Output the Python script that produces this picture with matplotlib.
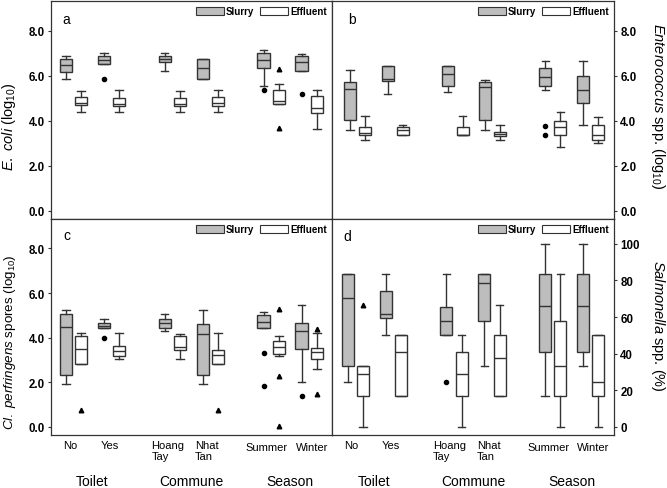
import matplotlib
matplotlib.use("Agg")
import matplotlib.pyplot as plt
from matplotlib.patches import Patch
from matplotlib.transforms import ScaledTranslation

plt.rcParams['font.family'] = ['Liberation Sans', 'DejaVu Sans']
plt.rcParams['mathtext.fontset'] = 'custom'
plt.rcParams['mathtext.rm'] = 'Liberation Sans'
plt.rcParams['mathtext.it'] = 'Liberation Sans:italic'

# ---------------- data ----------------
categories = ['No', 'Yes', 'Hoang\nTay', 'Nhat\nTan', 'Summer', 'Winter']
groups = ['Toilet', 'Commune', 'Season']
series = ['Slurry', 'Effluent']

# box stats per category: (whisker low, Q1, median, Q3, whisker high)
ecoli_slurry = [(5.85, 6.15, 6.46, 6.74, 6.86), (6.52, 6.52, 6.68, 6.90, 7.02),
                (6.19, 6.61, 6.76, 6.90, 7.02), (5.84, 5.84, 6.34, 6.73, 6.73),
                (5.54, 6.34, 6.71, 7.01, 7.16), (6.21, 6.21, 6.61, 6.86, 6.98)]
ecoli_effluent = [(4.39, 4.72, 4.78, 5.04, 5.32), (4.39, 4.65, 4.76, 5.01, 5.35),
                  (4.39, 4.65, 4.76, 5.01, 5.32), (4.39, 4.65, 4.79, 5.04, 5.36),
                  (4.76, 4.76, 4.90, 5.35, 5.64), (3.64, 4.34, 4.58, 5.08, 5.35)]
ecoli_dots = [(1, 0, 5.85), (4, 0, 5.39), (5, 0, 5.20)]
ecoli_triangles = [(4, 1, 6.28), (4, 1, 3.67)]

entero_slurry = [(3.61, 4.03, 5.41, 5.72, 6.24), (5.21, 5.75, 5.87, 6.42, 6.42),
                 (5.28, 5.53, 6.06, 6.42, 6.42), (3.61, 4.03, 5.49, 5.72, 5.83),
                 (5.38, 5.56, 5.94, 6.34, 6.67), (3.83, 4.79, 5.38, 5.97, 6.67)]
entero_effluent = [(3.17, 3.35, 3.47, 3.73, 4.20), (3.39, 3.39, 3.57, 3.72, 3.83),
                   (3.35, 3.35, 3.39, 3.73, 4.20), (3.17, 3.32, 3.42, 3.51, 3.83),
                   (2.85, 3.39, 3.72, 3.97, 4.38), (3.02, 3.17, 3.39, 3.83, 4.16)]
entero_dots = [(4, 0, 3.79), (4, 0, 3.36)]
entero_triangles = []

clp_slurry = [(1.93, 2.33, 4.48, 5.07, 5.25), (4.42, 4.42, 4.51, 4.68, 4.83),
              (4.28, 4.43, 4.68, 4.83, 5.07), (1.93, 2.33, 4.18, 4.62, 5.25),
              (4.45, 4.45, 4.71, 5.00, 5.17), (2.01, 3.49, 4.31, 4.64, 5.47)]
clp_effluent = [(2.83, 2.83, 3.49, 4.09, 4.22), (3.05, 3.18, 3.41, 3.63, 4.19),
                (3.03, 3.46, 3.60, 4.07, 4.18), (2.83, 2.83, 3.24, 3.43, 4.22),
                (3.20, 3.27, 3.57, 3.87, 4.06), (2.60, 3.03, 3.38, 3.54, 4.19)]
clp_dots = [(1, 0, 3.97), (4, 0, 3.30), (4, 0, 1.84), (5, 0, 1.38)]
clp_triangles = [(0, 1, 0.74), (3, 1, 0.74), (4, 1, 5.28), (4, 1, 2.28),
                 (4, 1, 0.03), (5, 1, 4.39), (5, 1, 1.46)]

salm_slurry = [(24.5, 33.3, 70.5, 83.3, 83.3), (50.0, 59.2, 61.8, 74.3, 83.3),
               (50.0, 50.0, 57.8, 65.6, 83.3), (33.3, 57.8, 78.8, 83.3, 83.3),
               (16.7, 41.1, 66.1, 83.3, 100.0), (33.3, 41.1, 66.1, 83.3, 100.0)]
salm_effluent = [(0.0, 16.7, 28.8, 33.3, 33.3), (16.7, 16.7, 40.9, 50.0, 50.0),
                 (0.0, 16.7, 28.8, 40.9, 50.0), (16.7, 16.7, 37.5, 50.0, 66.7),
                 (0.0, 16.7, 33.3, 57.8, 83.3), (0.0, 16.7, 24.5, 50.0, 50.0)]
salm_dots = [(2, 0, 24.5)]
salm_triangles = [(0, 1, 66.7)]

# ---------------- layout ----------------
group_pos = [0, 1, 2.6, 3.6, 5.2, 6.2]
offset = 0.2
label_shift_px = [(-3.5, 0), (-2, 0), (-4.5, 0), (-3.5, 0), (-4.5, -2), (2.5, -2)]
slurry_color = '#bdbdbd'
line_color = '#333333'

fig = plt.figure(figsize=(6.67, 4.89), dpi=100)
L, M, R = 51 / 667, 332 / 667, 614 / 667
T, C, B = 1 - 2 / 489, 1 - 220 / 489, 1 - 436 / 489
ax_a = fig.add_axes([L, C, M - L, T - C])
ax_b = fig.add_axes([M, C, R - M, T - C])
ax_c = fig.add_axes([L, B, M - L, C - B])
ax_d = fig.add_axes([M, B, R - M, C - B])


def make_stats(rows):
    return [dict(whislo=r[0], q1=r[1], med=r[2], q3=r[3], whishi=r[4], fliers=[])
            for r in rows]


def draw_panel(ax, slurry, effluent, dots, triangles):
    common = dict(patch_artist=True, widths=0.32, capwidths=0.2, showfliers=False,
                  medianprops=dict(color=line_color, lw=1.0),
                  whiskerprops=dict(color=line_color, lw=1.0),
                  capprops=dict(color=line_color, lw=1.0))
    ax.bxp(make_stats(slurry), positions=[p - offset for p in group_pos],
           boxprops=dict(facecolor=slurry_color, edgecolor=line_color, lw=1.0),
           **common)
    ax.bxp(make_stats(effluent), positions=[p + offset for p in group_pos],
           boxprops=dict(facecolor='white', edgecolor=line_color, lw=1.0),
           **common)
    for i, s, v in dots:
        x = group_pos[i] + (-offset if s == 0 else offset)
        ax.plot(x, v, 'o', color='black', ms=3.0, zorder=5)
    for i, s, v in triangles:
        x = group_pos[i] + (-offset if s == 0 else offset)
        ax.plot(x, v, '^', color='black', ms=3.3, zorder=5)
    handles = [Patch(facecolor=slurry_color, edgecolor=line_color, lw=0.8),
               Patch(facecolor='white', edgecolor=line_color, lw=0.8)]
    ax.legend(handles, series, loc='upper right', ncol=2, frameon=False,
              handlelength=2.9, handleheight=0.75, columnspacing=0.6,
              handletextpad=0.2, borderaxespad=0.35, borderpad=0.2,
              prop=dict(size=7, weight='bold'))
    for sp in ax.spines.values():
        sp.set_color(line_color)
        sp.set_linewidth(0.9)


draw_panel(ax_a, ecoli_slurry, ecoli_effluent, ecoli_dots, ecoli_triangles)
draw_panel(ax_b, entero_slurry, entero_effluent, entero_dots, entero_triangles)
draw_panel(ax_c, clp_slurry, clp_effluent, clp_dots, clp_triangles)
draw_panel(ax_d, salm_slurry, salm_effluent, salm_dots, salm_triangles)

log_ticks = [0, 2, 4, 6, 8]
for ax in (ax_a, ax_b, ax_c):
    ax.set_ylim(-0.36, 9.32)
    ax.set_yticks(log_ticks)
    ax.set_yticklabels([f'{t:.1f}' for t in log_ticks])
ax_d.set_ylim(-4.4, 113.5)
ax_d.set_yticks([0, 20, 40, 60, 80, 100])

ax_a.set_xlim(-0.59, 6.80)
ax_c.set_xlim(-0.59, 6.80)
ax_b.set_xlim(-0.68, 6.83)
ax_d.set_xlim(-0.61, 6.81)

for ax in (ax_b, ax_d):
    ax.yaxis.tick_right()
    ax.yaxis.set_label_position('right')

for ax in (ax_a, ax_b, ax_c, ax_d):
    ax.tick_params(axis='y', length=2.5, width=0.8, pad=2, labelsize=8.3,
                   color=line_color)
    for lab in ax.get_yticklabels():
        lab.set_fontweight('bold')

for ax in (ax_a, ax_b):
    ax.set_xticks([])

for ax in (ax_c, ax_d):
    ax.set_xticks(group_pos)
    ax.set_xticklabels(categories, fontsize=8, multialignment='left')
    ax.tick_params(axis='x', length=0, pad=3.5)
    for lab, (dx, dy) in zip(ax.get_xticklabels(), label_shift_px):
        lab.set_transform(lab.get_transform() +
                          ScaledTranslation(dx / 100, dy / 100, fig.dpi_scale_trans))
    for gi, g in enumerate(groups):
        xc = (group_pos[2 * gi] + group_pos[2 * gi + 1]) / 2
        ax.text(xc, -0.213, g, transform=ax.get_xaxis_transform(),
                ha='center', va='center', fontsize=10)

ax_a.set_ylabel(r'$\mathit{E.\ coli}$ (log$_{10}$)', fontsize=10.5, va='center')
ax_a.yaxis.set_label_coords(-0.149, 0.43)
ax_c.set_ylabel(r'$\mathit{Cl.\ perfringens}$ spores (log$_{10}$)', fontsize=9.6,
                va='center')
ax_c.yaxis.set_label_coords(-0.147, 0.435)
ax_b.set_ylabel(r'$\mathit{Enterococcus}$ spp. (log$_{10}$)', fontsize=10.5,
                rotation=-90, va='center')
ax_b.yaxis.set_label_coords(1.156, 0.52)
ax_d.set_ylabel(r'$\mathit{Salmonella}$ spp. (%)', fontsize=10.5,
                rotation=-90, va='center')
ax_d.yaxis.set_label_coords(1.156, 0.51)

for ax, letter, x, y in ((ax_a, 'a', 0.055, 0.917), (ax_b, 'b', 0.071, 0.917),
                         (ax_c, 'c', 0.055, 0.926), (ax_d, 'd', 0.053, 0.921)):
    ax.text(x, y, letter, transform=ax.transAxes, fontsize=10,
            ha='center', va='center')

fig.savefig('out.png', dpi=100)
